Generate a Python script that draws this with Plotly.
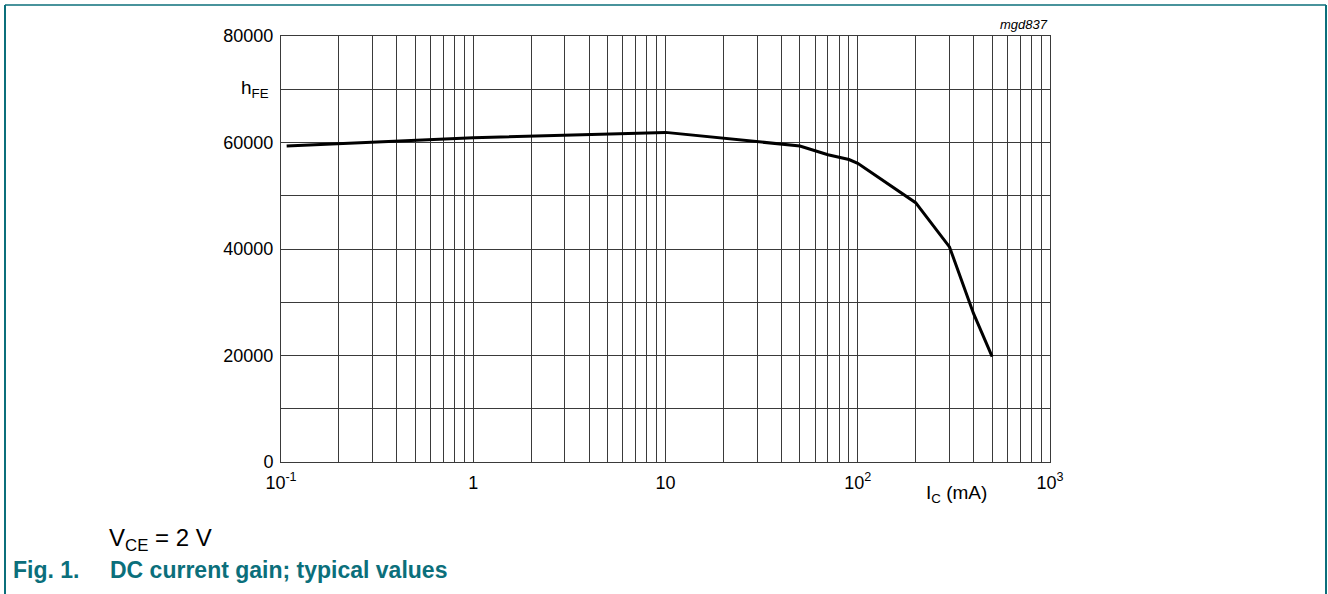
import plotly.graph_objects as go

# Data
ic_ma = [0.107, 1, 10, 30, 50, 70, 90, 100, 200, 300, 400, 500]
hfe = [59350, 60900, 61900, 60200, 59350, 57700, 56800, 56100, 48700, 40400, 27900, 19800]

x_tickvals = [0.1, 1, 10, 100, 1000]
x_ticktext = ["10<sup>-1</sup>", "1", "10", "10<sup>2</sup>", "10<sup>3</sup>"]
x_minor = [m * d for d in [0.1, 1, 10, 100] for m in range(2, 10)]
y_tickvals = [0, 20000, 40000, 60000, 80000]
y_minor = [10000, 30000, 50000, 70000]

W, H = 1328, 594
L, R, T, B = 281, 278, 36, 132
pw, ph = W - L - R, H - T - B

def px(x):
    return (x - L) / pw

def py(y):
    return (H - B - y) / ph

teal = "#0b6f7b"
grid = "#3a3a3a"
FAM = "Liberation Sans, Arial"

fig = go.Figure()
fig.add_trace(go.Scatter(x=ic_ma, y=hfe, mode="lines",
                         line=dict(color="black", width=3), showlegend=False,
                         hoverinfo="skip"))

fig.update_xaxes(type="log", range=[-1, 3], tickvals=x_tickvals, ticktext=x_ticktext,
                 showgrid=True, gridcolor=grid, gridwidth=1,
                 minor=dict(tickvals=x_minor, showgrid=True, gridcolor=grid, gridwidth=1, ticks=""),
                 showline=True, linecolor=grid, linewidth=1, mirror=True,
                 ticks="", ticklabelstandoff=4,
                 tickfont=dict(family=FAM, size=18, color="black"),
                 zeroline=False)
fig.update_yaxes(range=[0, 80000], tickvals=y_tickvals, ticktext=[str(v) for v in y_tickvals],
                 showgrid=True, gridcolor=grid, gridwidth=1,
                 minor=dict(tickvals=y_minor, showgrid=True, gridcolor=grid, gridwidth=1, ticks=""),
                 showline=True, linecolor=grid, linewidth=1, mirror=True,
                 ticks="", ticklabelstandoff=3,
                 tickfont=dict(family=FAM, size=18, color="black"),
                 zeroline=False)

font = dict(family=FAM, color="black")
annotations = [
    dict(x=px(271), y=py(89), xref="paper", yref="paper", text="h<sub>FE</sub>",
         showarrow=False, xanchor="right", yanchor="middle", font=dict(size=19, **font)),
    dict(x=px(956), y=py(494), xref="paper", yref="paper", text="I<sub>C</sub> (mA)",
         showarrow=False, xanchor="center", yanchor="middle", font=dict(size=19, **font)),
    dict(x=px(1050), y=py(24), xref="paper", yref="paper", text="<i>mgd837</i>",
         showarrow=False, xanchor="right", yanchor="middle", font=dict(size=13, **font)),
    dict(x=px(107), y=py(539), xref="paper", yref="paper", text="V<sub>CE</sub> = 2 V",
         showarrow=False, xanchor="left", yanchor="middle", font=dict(size=24, **font)),
    dict(x=px(11), y=py(570), xref="paper", yref="paper", text="<b>Fig. 1.</b>",
         showarrow=False, xanchor="left", yanchor="middle",
         font=dict(family=FAM, size=23, color=teal)),
    dict(x=px(108), y=py(570), xref="paper", yref="paper",
         text="<b>DC current gain; typical values</b>",
         showarrow=False, xanchor="left", yanchor="middle",
         font=dict(family=FAM, size=23, color=teal)),
]

shapes = [
    dict(type="line", xref="paper", yref="paper", x0=px(5), x1=px(5), y0=py(5), y1=py(600),
         line=dict(color=teal, width=2)),
    dict(type="line", xref="paper", yref="paper", x0=px(1326), x1=px(1326), y0=py(5), y1=py(600),
         line=dict(color=teal, width=2)),
    dict(type="line", xref="paper", yref="paper", x0=px(5), x1=px(1326), y0=py(5), y1=py(5),
         line=dict(color=teal, width=1.5)),
]

fig.update_layout(width=W, height=H, margin=dict(l=L, r=R, t=T, b=B),
                  paper_bgcolor="white", plot_bgcolor="white",
                  annotations=annotations, shapes=shapes, showlegend=False)

fig.write_html("out.html", config={"displayModeBar": False},
               post_script="document.body.style.margin='0';document.body.style.overflow='hidden';")
